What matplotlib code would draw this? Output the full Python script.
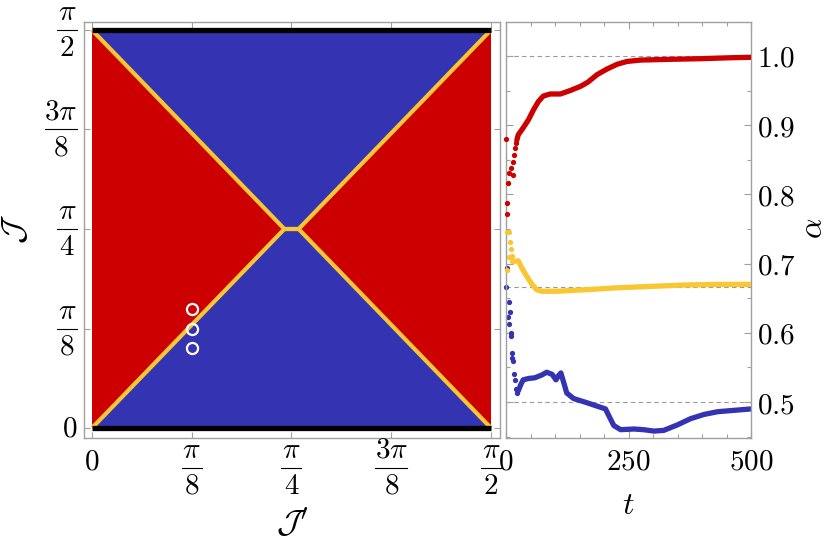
import numpy as np
import matplotlib
matplotlib.use("Agg")
import matplotlib.pyplot as plt
from matplotlib.patches import Polygon
from matplotlib.lines import Line2D
from matplotlib.ticker import MultipleLocator, FixedLocator
from matplotlib.transforms import Affine2D, ScaledTranslation, blended_transform_factory

plt.rcParams['mathtext.fontset'] = 'cm'
plt.rcParams['font.family'] = ['DejaVu Serif']

PI = np.pi
# ---------------- phase diagram data ----------------
d = 0.028
blue_top = [(0, PI/2), (PI/4 - d, PI/4), (PI/4 + d, PI/4), (PI/2, PI/2)]
blue_bot = [(0, 0), (PI/4 - d, PI/4), (PI/4 + d, PI/4), (PI/2, 0)]
red_rect = [(0, 0), (PI/2, 0), (PI/2, PI/2), (0, PI/2)]
boundary1_x = [0, PI/4 - d, PI/4 + d, PI/2]
boundary1_y = [0, PI/4, PI/4, PI/2]
boundary2_x = [0, PI/4 - d, PI/4 + d, PI/2]
boundary2_y = [PI/2, PI/4, PI/4, 0]
edge_x = [0, PI/2]
edge_levels = [0, PI/2]
circle_x = [PI/8, PI/8, PI/8]
circle_y = [PI/8 + PI/40, PI/8, PI/8 - PI/40]

pi_ticks = [0, PI/8, PI/4, 3*PI/8, PI/2]
tick_num = [r'$0$', r'$\pi$', r'$\pi$', r'$3\pi$', r'$\pi$']
tick_den = [None, r'$8$', r'$4$', r'$8$', r'$2$']

# ---------------- time series data ----------------
red_t0 = [0, 1.5, 2.5, 4.7, 6.8, 9.6, 13.7, 15, 16.4, 18.4, 20.5]
red_a0 = [0.880, 0.772, 0.788, 0.817, 0.831, 0.838, 0.828, 0.847, 0.857, 0.867, 0.874]
red_t = [22, 25, 35, 46, 56, 66, 76, 90, 111, 131, 152, 167, 186, 206, 227, 247, 275, 329, 397, 465, 500]
red_a = [0.878, 0.886, 0.896, 0.908, 0.922, 0.934, 0.942, 0.945, 0.945, 0.950, 0.956, 0.962,
         0.973, 0.981, 0.988, 0.992, 0.994, 0.995, 0.996, 0.9975, 0.998]

yel_t0 = [2.7, 4.7, 6.8, 6.8, 8.2, 10.2, 11.5, 13, 2.7]
yel_a0 = [0.746, 0.817, 0.745, 0.710, 0.731, 0.721, 0.711, 0.703, 0.691]
yel_t = [15, 25, 32, 42, 53, 63, 73, 104, 158, 227, 295, 363, 432, 500]
yel_a = [0.703, 0.704, 0.694, 0.682, 0.670, 0.662, 0.660, 0.660, 0.662, 0.665, 0.667, 0.669, 0.670, 0.670]

blu_t0 = [2, 1, 6.8, 8.2, 4.7, 6.8, 10.2, 10.2, 13, 13, 15, 16.4, 18.4, 20, 22]
blu_a0 = [0.694, 0.666, 0.645, 0.630, 0.623, 0.613, 0.600, 0.595, 0.571, 0.564, 0.559, 0.540, 0.532, 0.519, 0.513]
blu_t = [25, 30, 35, 46, 59, 73, 83, 94, 102, 107, 112, 117, 124, 138, 165, 186, 203, 210, 220,
         234, 261, 281, 302, 322, 350, 377, 404, 432, 466, 500]
blu_a = [0.516, 0.525, 0.532, 0.534, 0.535, 0.539, 0.543, 0.540, 0.532, 0.538, 0.542, 0.530, 0.513,
         0.505, 0.499, 0.494, 0.490, 0.480, 0.466, 0.460, 0.461, 0.460, 0.458, 0.459, 0.467, 0.476,
         0.482, 0.486, 0.488, 0.490]
ref_levels = [1.0, 2/3, 0.5]
t_ticks = [0, 250, 500]
t_ticklabels = [r'$0$', r'$250$', r'$500$']
a_ticks = [0.5, 0.6, 0.7, 0.8, 0.9, 1.0]
a_ticklabels = [r'$0.5$', r'$0.6$', r'$0.7$', r'$0.8$', r'$0.9$', r'$1.0$']

RED = '#cc0000'
BLUE = '#3434b2'
YEL = '#f8c733'
FRAME = '#a0a0a0'
FS = 21
W, H = 830, 545

fig = plt.figure(figsize=(8.3, 5.45), dpi=100)

# ---------------- left panel ----------------
ax1 = fig.add_axes([84/W, 1 - 438/H, 416/W, 416/H])
ax1.add_patch(Polygon(red_rect, closed=True, facecolor=RED, edgecolor='none'))
ax1.add_patch(Polygon(blue_top, closed=True, facecolor=BLUE, edgecolor='none'))
ax1.add_patch(Polygon(blue_bot, closed=True, facecolor=BLUE, edgecolor='none'))
ax1.plot(boundary1_x, boundary1_y, color=YEL, lw=3.0, solid_capstyle='butt', solid_joinstyle='miter')
ax1.plot(boundary2_x, boundary2_y, color=YEL, lw=3.0, solid_capstyle='butt', solid_joinstyle='miter')
for lev in edge_levels:
    ax1.plot(edge_x, [lev, lev], color='black', lw=3.8, solid_capstyle='butt')
ax1.plot(circle_x, circle_y, 'o', ms=8, mfc='none', mec='white', mew=1.6)

ax1.set_xlim(-8/254, PI/2 + 9/254)
ax1.set_ylim(-10/253.4, PI/2 + 8/253.4)
ax1.set_xticks(pi_ticks)
ax1.set_yticks(pi_ticks)
ax1.set_xticklabels([''] * len(pi_ticks))
ax1.set_yticklabels([''] * len(pi_ticks))
ax1.tick_params(direction='in', length=4, width=0.8, color=FRAME, top=True, right=True)
for s in ax1.spines.values():
    s.set_color(FRAME)
    s.set_linewidth(1.0)

xtrans = blended_transform_factory(ax1.transData, ax1.transAxes)
ytrans = blended_transform_factory(ax1.transAxes, ax1.transData)


def bar_width(num):
    return 20 if len(num) <= 5 else 32


def frac_label(x, y, trans, num, den, cx, cy):
    """Fraction tick label whose bar centre sits at pixel offset (cx, cy) from the anchor."""
    w = bar_width(num)
    ax1.annotate(num, xy=(x, y), xycoords=trans, xytext=(cx, cy + 4), textcoords='offset pixels',
                 ha='center', va='bottom', fontsize=FS, annotation_clip=False)
    ax1.annotate(den, xy=(x, y), xycoords=trans, xytext=(cx, cy - 4), textcoords='offset pixels',
                 ha='center', va='top', fontsize=FS, annotation_clip=False)
    tr = Affine2D().translate(cx, cy) + ScaledTranslation(x, y, trans)
    fig.add_artist(Line2D([-w / 2, w / 2], [0, 0], transform=tr, color='black', lw=0.8))


for v, num, den in zip(pi_ticks, tick_num, tick_den):
    if den is None:
        ax1.annotate(num, xy=(v, 0), xycoords=xtrans, xytext=(0, -23), textcoords='offset pixels',
                     ha='center', va='center', fontsize=FS, annotation_clip=False)
        ax1.annotate(num, xy=(0, v), xycoords=ytrans, xytext=(-7, 0), textcoords='offset pixels',
                     ha='right', va='center', fontsize=FS, annotation_clip=False)
    else:
        frac_label(v, 0, xtrans, num, den, 0, -30)
        frac_label(0, v, ytrans, num, den, -7 - bar_width(num) / 2, 0)

fig.text(292/W, 1 - 524/H, r"$\mathcal{J}'$", fontsize=24, ha='center', va='center')
fig.text(15/W, 1 - 229/H, r"$\mathcal{J}$", fontsize=24, ha='center', va='center', rotation=90)

# ---------------- right panel ----------------
ax2 = fig.add_axes([506/W, 1 - 438/H, 245/W, 416/H])
for lev in ref_levels:
    ax2.axhline(lev, color='#9a9a9a', lw=0.8, dashes=(4, 3), zorder=1)
ms = 3.8
lw = 3.8
ax2.plot(blu_t0, blu_a0, 'o', color=BLUE, ms=ms, mew=0, clip_on=False, zorder=2)
ax2.plot(blu_t, blu_a, '-', color=BLUE, lw=lw, solid_capstyle='round', zorder=2)
ax2.plot(yel_t0, yel_a0, 'o', color=YEL, ms=ms, mew=0, clip_on=False, zorder=3)
ax2.plot(yel_t, yel_a, '-', color=YEL, lw=lw, solid_capstyle='round', zorder=3)
ax2.plot(red_t0, red_a0, 'o', color=RED, ms=ms, mew=0, clip_on=False, zorder=4)
ax2.plot(red_t, red_a, '-', color=RED, lw=lw, solid_capstyle='round', zorder=4)

ax2.set_xlim(0, 500)
ax2.set_ylim(0.448, 1.049)
ax2.xaxis.set_major_locator(FixedLocator(t_ticks))
ax2.set_xticklabels(t_ticklabels)
ax2.xaxis.set_minor_locator(MultipleLocator(50))
ax2.yaxis.set_major_locator(FixedLocator(a_ticks))
ax2.yaxis.set_minor_locator(MultipleLocator(0.05))
ax2.set_yticklabels(a_ticklabels)
ax2.yaxis.tick_right()
ax2.tick_params(which='both', direction='in', color=FRAME, width=0.8,
                top=True, bottom=True, left=True, right=True, labelsize=FS)
ax2.tick_params(which='minor', length=3)
ax2.tick_params(axis='x', which='major', length=5, pad=7)
ax2.tick_params(axis='y', which='major', length=5, pad=4)
for s in ax2.spines.values():
    s.set_color(FRAME)
    s.set_linewidth(1.0)

fig.text(628/W, 1 - 505/H, r'$t$', fontsize=23, ha='center', va='center')
fig.text(814/W, 1 - 228/H, r'$\alpha$', fontsize=23, ha='center', va='center', rotation=90)

fig.savefig('out.png', dpi=100)
